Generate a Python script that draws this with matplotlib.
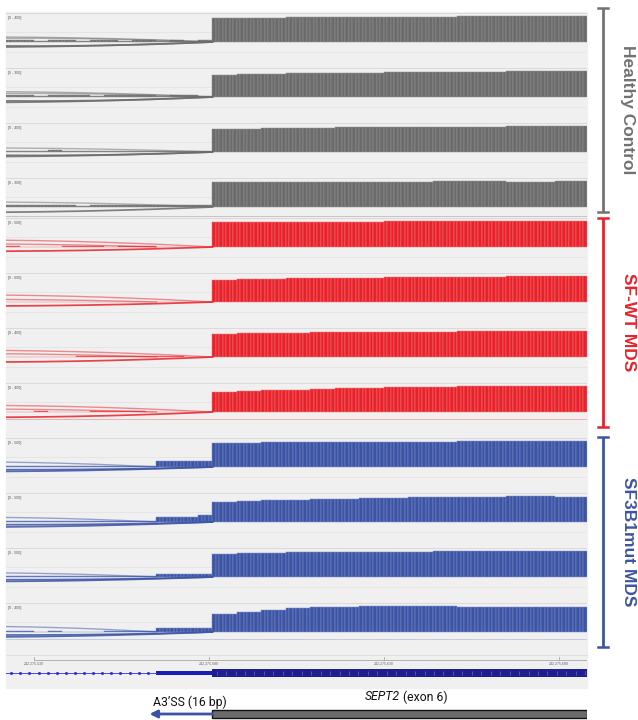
import numpy as np
import matplotlib
matplotlib.use("Agg")
import matplotlib.pyplot as plt
from matplotlib.patches import Rectangle

plt.rcParams['font.family'] = ['Liberation Sans', 'DejaVu Sans']

# ---------------- genomic window (chr2, bp) ----------------
view_start = 242275522
view_end = 242275688
a3ss_start = 242275565      # alternative 3' splice site (16 bp upstream)
exon_start = 242275581      # canonical 3' splice site of SEPT2 exon 6
ruler_ticks = [242275530, 242275580, 242275630, 242275680]

# ---------------- samples ----------------
group_names = ["Healthy Control", "SF-WT MDS", "SF3B1mut MDS"]
group_colors = ["#6b6b6b", "#e8222a", "#3c54a4"]
track_group = [0, 0, 0, 0, 1, 1, 1, 1, 2, 2, 2, 2]
data_range = [400, 300, 400, 300, 500, 600, 400, 400, 500, 500, 500, 400]

# read coverage: intron in 4-bp blocks, A3'SS region in 4-bp blocks, exon in 7-bp blocks
intron_cov = [
    [24, 24, 22, 24, 24, 22, 24, 24, 22, 24, 24],
    [18, 18, 16, 18, 18, 18, 16, 18, 18, 18, 18],
    [22, 22, 22, 24, 22, 22, 22, 22, 22, 22, 22],
    [18, 18, 18, 18, 18, 16, 18, 18, 18, 18, 20],
    [25, 0, 0, 0, 25, 25, 25, 0, 25, 25, 25],
    [0, 0, 0, 0, 0, 0, 0, 0, 0, 0, 0],
    [0, 0, 0, 0, 0, 18, 18, 18, 18, 18, 18],
    [0, 0, 18, 0, 0, 0, 18, 18, 18, 18, 0],
    [25, 25, 25, 25, 25, 25, 25, 22, 20, 20, 20],
    [25, 20, 20, 20, 20, 20, 20, 20, 20, 20, 20],
    [22, 22, 22, 22, 22, 22, 22, 22, 22, 22, 22],
    [18, 18, 0, 18, 0, 0, 0, 18, 18, 18, 18],
]
a3ss_cov = [
    [22, 24, 22, 24],
    [16, 18, 18, 16],
    [20, 20, 20, 8],
    [20, 18, 18, 18],
    [0, 0, 0, 0],
    [0, 0, 0, 0],
    [18, 18, 0, 0],
    [0, 0, 0, 0],
    [110, 115, 115, 115],
    [100, 100, 100, 130],
    [50, 60, 60, 60],
    [56, 60, 60, 60],
]
exon_cov = [
    [364, 372, 376, 380, 384, 384, 388, 388, 392, 392, 396, 396, 396, 400, 400, 396],
    [258, 264, 270, 273, 276, 279, 282, 285, 288, 291, 291, 294, 297, 297, 300, 300],
    [352, 360, 368, 372, 376, 380, 380, 384, 388, 388, 392, 392, 396, 396, 400, 400],
    [288, 288, 291, 291, 294, 294, 291, 291, 294, 297, 297, 297, 294, 294, 297, 297],
    [475, 480, 485, 485, 490, 490, 490, 495, 495, 495, 495, 500, 500, 500, 495, 495],
    [510, 522, 534, 546, 552, 558, 564, 570, 576, 582, 588, 588, 594, 600, 600, 594],
    [360, 368, 372, 376, 380, 384, 388, 388, 392, 392, 396, 396, 400, 400, 400, 400],
    [308, 320, 332, 344, 356, 364, 372, 380, 388, 392, 396, 400, 400, 400, 396, 396],
    [460, 470, 480, 485, 490, 490, 485, 485, 490, 490, 495, 495, 500, 500, 500, 500],
    [390, 410, 420, 430, 440, 450, 460, 470, 475, 480, 485, 490, 500, 500, 485, 480],
    [450, 460, 470, 475, 480, 480, 485, 490, 490, 495, 495, 500, 500, 500, 495, 495],
    [280, 312, 344, 368, 384, 392, 400, 400, 396, 396, 392, 392, 388, 388, 384, 384],
]

# splice junctions: (donor, acceptor, depth, side)  side +1 above / -1 below
junctions = [
    [(242275446, 242275581, 78, 1), (242275470, 242275581, 58, 1),
     (242275436, 242275581, 80, -1), (242275480, 242275581, 62, -1)],
    [(242275446, 242275581, 62, 1), (242275470, 242275581, 42, 1),
     (242275436, 242275581, 64, -1), (242275480, 242275581, 46, -1)],
    [(242275446, 242275581, 62, 1), (242275436, 242275581, 72, -1),
     (242275480, 242275581, 52, -1)],
    [(242275446, 242275581, 57, 1), (242275436, 242275581, 62, -1)],
    [(242275436, 242275581, 135, 1), (242275455, 242275565, 60, 1),
     (242275446, 242275581, 82, -1)],
    [(242275436, 242275581, 165, 1), (242275455, 242275565, 62, 1),
     (242275446, 242275581, 92, -1)],
    [(242275436, 242275581, 104, 1), (242275455, 242275565, 52, 1),
     (242275446, 242275581, 78, -1)],
    [(242275436, 242275581, 104, 1), (242275455, 242275565, 46, 1),
     (242275446, 242275581, 82, -1)],
    [(242275455, 242275565, 98, 1), (242275436, 242275581, 88, -1),
     (242275470, 242275581, 52, -1)],
    [(242275455, 242275565, 92, 1), (242275436, 242275581, 98, -1),
     (242275470, 242275581, 52, -1)],
    [(242275455, 242275565, 82, 1), (242275436, 242275581, 88, -1),
     (242275470, 242275581, 52, -1)],
    [(242275455, 242275565, 88, 1), (242275436, 242275581, 78, -1),
     (242275470, 242275581, 46, -1)],
]

# ---------------- layout (pixels) ----------------
FW, FH = 638, 720
PANEL_L, PANEL_R = 6, 587
track_tops = [13, 68, 123, 178, 218, 273, 328, 383, 438, 493, 548, 603]
track_heights = [55, 55, 55, 39, 55, 55, 55, 37, 55, 55, 55, 37]
BASE_OFF, MAX_OFF = 29, 3
bar_edges = ["#959595", "#f47a7e", "#7f8fcb"]
group_end_lines = ["#bdbdbd", "#f3a3a6", "#b9c3e3"]

fig = plt.figure(figsize=(FW / 100, FH / 100), dpi=100)


def axes_px(left, top, width, height):
    return fig.add_axes([left / FW, 1 - (top + height) / FH, width / FW, height / FH])


bg = fig.add_axes([0, 0, 1, 1])
bg.set_xlim(0, FW)
bg.set_ylim(FH, 0)
bg.axis('off')
bg.add_patch(Rectangle((PANEL_L, 12), PANEL_R - PANEL_L, 676, color="#f0f0f0", zorder=0))
bg.plot([PANEL_L, PANEL_R], [655, 655], color="#dcdcdc", lw=0.6)

n_intron = a3ss_start - view_start
n_a3ss = exon_start - a3ss_start
n_exon = view_end - exon_start
positions = np.arange(view_start, view_end)

for i, top in enumerate(track_tops):
    h = track_heights[i]
    g = track_group[i]
    col = group_colors[g]
    R = data_range[i]
    per_px = R / (BASE_OFF - MAX_OFF)
    ax = axes_px(PANEL_L, top, PANEL_R - PANEL_L, h)
    ax.set_xlim(view_start, view_end)
    ax.set_ylim(-(h - BASE_OFF) * per_px, BASE_OFF * per_px)
    ax.axis('off')

    # faint row guides
    ax.axhline(BASE_OFF * per_px - 0.3 * per_px, color="#dadada", lw=0.7, zorder=0)
    for off in (19, 39):
        if off < h - 2:
            ax.axhline((BASE_OFF - off) * per_px, color="#e4e4e4", lw=0.6, zorder=0)
    if i in (3, 7, 11):
        ax.axhline(-(h - BASE_OFF - 0.5) * per_px, color=group_end_lines[g], lw=1.2, zorder=0)

    cov = np.concatenate([
        np.repeat(intron_cov[i], 4)[:n_intron],
        np.repeat(a3ss_cov[i], 4)[:n_a3ss],
        np.repeat(exon_cov[i], 7)[:n_exon],
    ])
    ax.bar(positions, cov, width=1, align='edge', color=col,
           edgecolor=bar_edges[g], linewidth=0.35, zorder=2)

    # junction arcs (parabolic, donors lie left of the window)
    for (s, e, d, side) in junctions[i]:
        xs = np.linspace(max(s, view_start), e, 400)
        ys = side * d * 4 * (xs - s) * (e - xs) / (e - s) ** 2
        if side > 0:
            ax.plot(xs, ys, color=col, lw=1.0, alpha=0.5, zorder=3)
        else:
            ax.plot(xs, ys, color=col, lw=1.25, alpha=0.85, zorder=3)

    ax.text(0.004, 1 - 5 / h, f"[0 - {R}]", transform=ax.transAxes,
            fontsize=2.6, color="#555555", va='center', ha='left')

# ---------------- ruler ----------------
rax = axes_px(PANEL_L, 650, PANEL_R - PANEL_L, 16)
rax.set_xlim(view_start, view_end)
rax.set_ylim(16, 0)
rax.axis('off')
rax.plot([ruler_ticks[0], view_end], [9.5, 9.5], color="#a8a8a8", lw=0.6)
for t in ruler_ticks:
    rax.plot([t, t], [7, 9.5], color="#a8a8a8", lw=0.6)
    rax.text(t, 13.5, f"{t:,}", fontsize=2.6, color="#666666", ha='center', va='center')

# ---------------- gene model ----------------
gax = axes_px(PANEL_L, 662, PANEL_R - PANEL_L, 22)
gax.set_xlim(view_start, view_end)
gax.set_ylim(-11, 11)
gax.axis('off')
gax.plot([view_start, a3ss_start], [0, 0], color="#4a4ae0", lw=0.7)
strand_marks = np.arange(view_start + 1.5, a3ss_start, 2.6)
gax.plot(strand_marks, np.zeros(len(strand_marks)), ls='none', marker='s', ms=1.0, color="#2a2ad8")
gax.add_patch(Rectangle((a3ss_start, -1.6), exon_start - a3ss_start, 3.2, color="#1c1cb4", lw=0))
gax.add_patch(Rectangle((exon_start, -3.6), view_end - exon_start, 7.2, color="#1e1e8e", lw=0))
mk = np.arange(exon_start + 1.2, view_end, 2.7)
gax.plot(mk, np.zeros(len(mk)), ls='none', marker='|', ms=2.2, mew=0.5, color="#6a6ad2")

# ---------------- annotations below ----------------
aax = axes_px(PANEL_L, 690, PANEL_R - PANEL_L, 30)
aax.set_xlim(view_start, view_end)
aax.set_ylim(30, 0)
aax.axis('off')
aax.add_patch(Rectangle((exon_start, 20), view_end - exon_start, 8,
                        facecolor="#6b6b6b", edgecolor="#111111", lw=1.0))
aax.annotate('', xy=(a3ss_start - 2, 24), xytext=(exon_start, 24),
             arrowprops=dict(arrowstyle='-|>', color=group_colors[2], lw=2.0,
                             mutation_scale=11, shrinkA=0, shrinkB=0))
aax.text((a3ss_start + exon_start) / 2 + 1.6, 12, "A3\u2019SS (16 bp)", fontsize=8.8,
         family=['Roboto', 'DejaVu Sans'], ha='center', va='center', color="#111111")
mid = (exon_start + view_end) / 2
aax.text(mid, 7, "SEPT2", fontsize=8.8, style='italic', family=['Roboto', 'DejaVu Sans'],
         ha='right', va='center', color="#111111")
aax.text(mid + 0.8, 7, "(exon 6)", fontsize=8.8, family=['Roboto', 'DejaVu Sans'],
         ha='left', va='center', color="#111111")

# ---------------- group brackets ----------------
bracket_spans = [(8, 212), (218, 427), (437, 647)]
for g, (y0, y1) in enumerate(bracket_spans):
    c = group_colors[g] if g else "#727272"
    bg.plot([603, 603], [y0, y1], color=c, lw=2.0, solid_capstyle='butt')
    bg.plot([598, 608], [y0, y0], color=c, lw=1.8)
    bg.plot([598, 608], [y1, y1], color=c, lw=1.8)
    bg.text(628, (y0 + y1) / 2, group_names[g], rotation=270, ha='center', va='center',
            fontsize=12.5, fontweight='bold', color=c)

fig.savefig("out.png", dpi=100)
